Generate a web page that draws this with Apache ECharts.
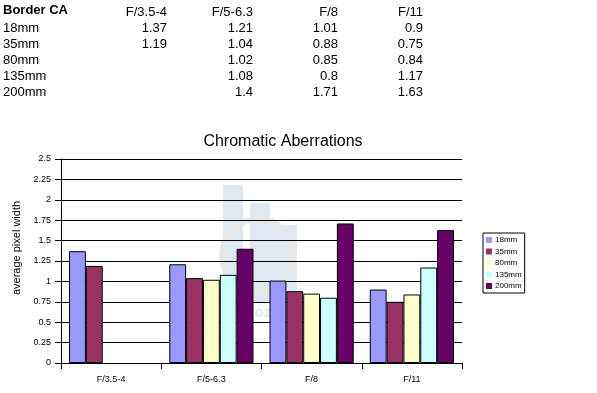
<!DOCTYPE html>
<html>
<head>
<meta charset="utf-8">
<script src="https://cdn.jsdelivr.net/npm/echarts@6/dist/echarts.min.js"></script>
<style>
html,body{margin:0;padding:0;background:#fff;}
#chart{width:597px;height:393px;}
</style>
</head>
<body>
<div id="chart"></div>
<script>
// ---- data ----
const categories = ['F/3.5-4', 'F/5-6.3', 'F/8', 'F/11'];
const tableTitle = 'Border CA';
const seriesNames = ['18mm', '35mm', '80mm', '135mm', '200mm'];
const s18 = [1.37, 1.21, 1.01, 0.9];
const s35 = [1.19, 1.04, 0.88, 0.75];
const s80 = [null, 1.02, 0.85, 0.84];
const s135 = [null, 1.08, 0.8, 1.17];
const s200 = [null, 1.4, 1.71, 1.63];
const seriesValues = [s18, s35, s80, s135, s200];
const colors = ['#9999FF', '#993366', '#FFFFCC', '#CCFFFF', '#660066'];
const yTicks = { min: 0, max: 2.5, interval: 0.25 };

const FONT = "'Liberation Sans', Arial, sans-serif";

// ---- table (text block above chart) ----
const colRight = [167, 253, 338, 423];
const rowY0 = 12, rowStep = 16;
const tableGraphics = [];
tableGraphics.push({type:'text', left:3, top:rowY0-8, silent:true,
  style:{text:tableTitle, font:"bold 13px "+FONT, fill:'#000'}});
categories.forEach((c,i)=>{
  tableGraphics.push({type:'text', x:colRight[i], y:rowY0, silent:true,
    style:{text:c, font:"13px "+FONT, fill:'#000', textAlign:'right', textVerticalAlign:'middle'}});
});
seriesNames.forEach((n,r)=>{
  const y = rowY0 + rowStep*(r+1);
  tableGraphics.push({type:'text', x:3, y:y, silent:true,
    style:{text:n, font:"13px "+FONT, fill:'#000', textAlign:'left', textVerticalAlign:'middle'}});
  seriesValues[r].forEach((v,i)=>{
    if (v === null) return;
    tableGraphics.push({type:'text', x:colRight[i], y:y, silent:true,
      style:{text:String(v), font:"13px "+FONT, fill:'#000', textAlign:'right', textVerticalAlign:'middle'}});
  });
});

// ---- faint watermark ----
const wm = [
  {type:'rect', shape:{x:223,y:185,width:20,height:118}, style:{fill:'#dfe7f0'}, z:-10, silent:true},
  {type:'rect', shape:{x:250,y:203,width:20,height:100}, style:{fill:'#dfe7f0'}, z:-10, silent:true},
  {type:'rect', shape:{x:270,y:225,width:27,height:78}, style:{fill:'#dfe7f0'}, z:-10, silent:true},
  {type:'circle', shape:{cx:258,cy:255,r:36}, style:{fill:'none', stroke:'#e6e6e6', lineWidth:6}, z:-9, silent:true},
  {type:'text', x:260, y:313, style:{text:'photozone', font:"bold 15px "+FONT, fill:'#dfe7f0', textAlign:'center', textVerticalAlign:'middle'}, z:-9, silent:true}
];

const chart = echarts.init(document.getElementById('chart'), null, {renderer:'canvas'});
chart.setOption({
  animation:false,
  backgroundColor:'#fff',
  textStyle:{fontFamily:FONT},
  title:{
    text:'Chromatic Aberrations', left:278, top:129, textAlign:'center',
    textStyle:{fontSize:16, fontWeight:'normal', color:'#000', fontFamily:FONT}
  },
  graphic: tableGraphics.concat(wm),
  legend:{
    orient:'vertical', left:483, top:233,
    data:seriesNames,
    itemWidth:6, itemHeight:6, itemGap:3.5,
    padding:[3,3,3,3],
    borderColor:'#000', borderWidth:1,
    itemStyle:{borderWidth:0},
    textStyle:{fontSize:8, color:'#000', fontFamily:FONT, padding:[0,0,0,-2]},
    icon:'rect'
  },
  grid:{left:61, right:135, top:159, bottom:30, containLabel:false},
  xAxis:{
    type:'category', data:categories,
    axisLine:{lineStyle:{color:'#000', width:1}},
    axisTick:{show:true, length:6, lineStyle:{color:'#000'}, alignWithLabel:false},
    axisLabel:{color:'#000', fontSize:9, margin:12, fontFamily:FONT},
    splitLine:{show:false}
  },
  yAxis:{
    type:'value', min:yTicks.min, max:yTicks.max, interval:yTicks.interval,
    name:'average pixel width', nameLocation:'middle', nameGap:38,
    nameTextStyle:{fontSize:11, color:'#000', fontFamily:FONT, padding:[0,0,0,26]},
    axisLine:{show:true, lineStyle:{color:'#000', width:1}},
    axisTick:{show:true, length:6, lineStyle:{color:'#000'}},
    axisLabel:{color:'#000', fontSize:9, margin:10, fontFamily:FONT},
    splitLine:{show:true, lineStyle:{color:'#000', width:1}}
  },
  series: seriesNames.map((n,i)=>({
    name:n, type:'bar', data:seriesValues[i],
    barGap:'0%', barCategoryGap:'16%',
    itemStyle:{color:colors[i], borderColor:'#000', borderWidth:1},
    emphasis:{disabled:true}
  }))
});
</script>
</body>
</html>
